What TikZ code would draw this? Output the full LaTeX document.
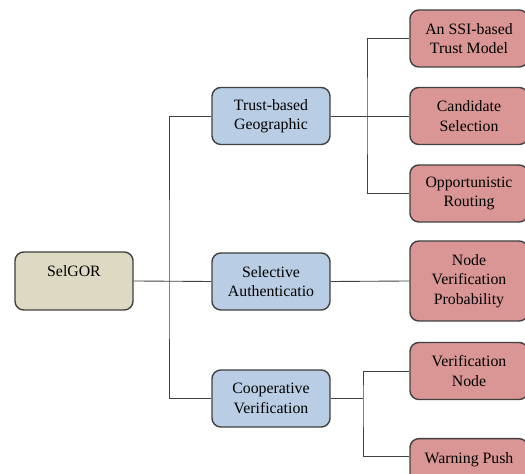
\documentclass[tikz,border=0pt]{standalone}
\usepackage{fontspec}
\setmainfont{Liberation Serif}
\usepackage{tikz}
\usetikzlibrary{positioning, calc}
\usepackage{xcolor}
\definecolor{rootfill}{RGB}{221,217,195}
\definecolor{midfill}{RGB}{185,205,229}
\definecolor{leaffill}{RGB}{217,150,148}

\begin{document}
\begin{tikzpicture}[font=\small,
  box/.style={draw=black!75, line width=0.8pt, rounded corners=5pt, minimum width=2.36cm, minimum height=1.14cm, align=center, inner sep=2pt},
  link/.style={draw=black!75, line width=0.5pt}]
  \useasboundingbox (0,0) rectangle (10.5,-9.48);
  \begin{scope}
  \clip (0,0) rectangle (10.5,-9.48);
  \node[box, fill=rootfill, minimum height=1.16cm] (selgor) at (1.48,-5.62) {SelGOR\\\mbox{}};
  \node[box, fill=midfill] (trust) at (5.42,-2.32) {Trust-based\\Geographic};
  \node[box, fill=midfill] (select) at (5.42,-5.63) {Selective\\Authenticatio};
  \node[box, fill=midfill] (coop) at (5.42,-7.97) {Cooperative\\Verification};
  \node[box, fill=leaffill] (ssi) at (9.38,-0.77) {An SSI-based\\Trust Model};
  \node[box, fill=leaffill] (cand) at (9.38,-2.32) {Candidate\\Selection};
  \node[box, fill=leaffill] (opp) at (9.38,-3.87) {Opportunistic\\Routing};
  \node[box, fill=leaffill, minimum height=1.6cm] (nvp) at (9.38,-5.62) {Node\\Verification\\Probability};
  \node[box, fill=leaffill] (vnode) at (9.38,-7.42) {Verification\\Node};
  \node[box, fill=leaffill, anchor=north] (warn) at (9.38,-8.76) {Warning Push\\\mbox{}};
  % buses
  \coordinate (busA) at (3.38,-5.62);
  \coordinate (busB) at (7.34,-2.32);
  \coordinate (busC) at (7.26,-7.97);
  \coordinate (warnin) at ($(warn.north west)+(0,-0.36)$);
  \draw[link] (selgor.east) -- (select.west);
  \draw[link] (trust.west) -| (busA) |- (coop.west);
  \draw[link] (trust.east) -- (cand.west);
  \draw[link] (ssi.west) -| (busB) |- (opp.west);
  \draw[link] (select.east) -- (nvp.west);
  \draw[link] (coop.east) -- (busC);
  \draw[link] (vnode.west) -| (busC) |- (warnin);
  \end{scope}
\end{tikzpicture}
\end{document}
